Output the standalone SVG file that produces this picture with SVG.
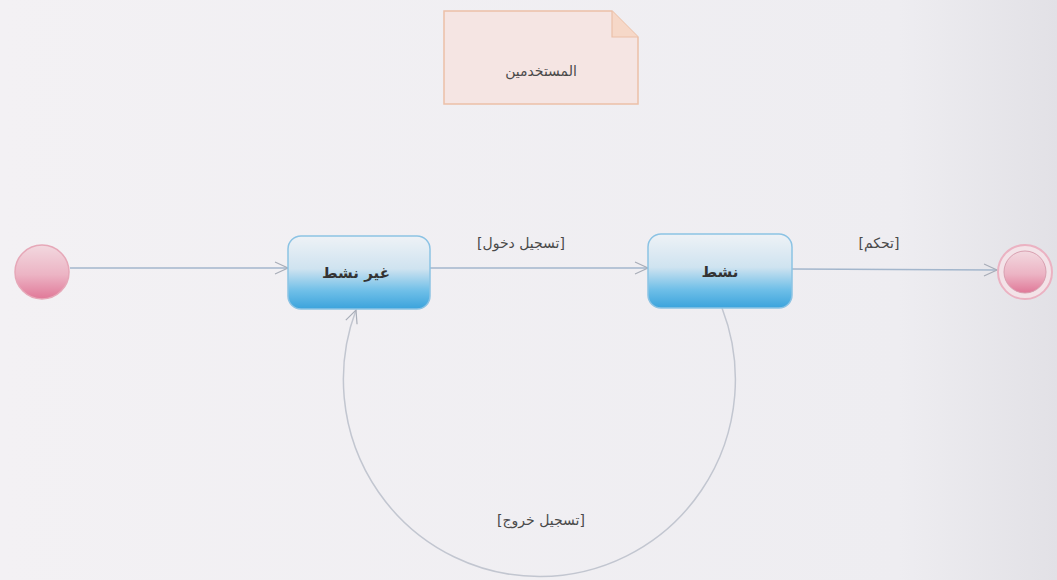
<svg xmlns="http://www.w3.org/2000/svg" width="1057" height="580" viewBox="0 0 1057 580">
  <defs>
    <linearGradient id="bg" x1="0" y1="0" x2="1" y2="0">
      <stop offset="0" stop-color="#f3f1f4"/>
      <stop offset="0.85" stop-color="#eeedf1"/>
      <stop offset="1" stop-color="#e2e1e6"/>
    </linearGradient>
    <linearGradient id="stateFill" x1="0" y1="0" x2="0" y2="1">
      <stop offset="0" stop-color="#eef2f6"/>
      <stop offset="0.45" stop-color="#cfe3f0"/>
      <stop offset="0.75" stop-color="#6fbfe8"/>
      <stop offset="1" stop-color="#3ba3dc"/>
    </linearGradient>
    <linearGradient id="pinkFill" x1="0" y1="0" x2="0" y2="1">
      <stop offset="0" stop-color="#f2d8df"/>
      <stop offset="0.55" stop-color="#ecb4c4"/>
      <stop offset="1" stop-color="#e07898"/>
    </linearGradient>
    <marker id="open" markerWidth="16" markerHeight="14" refX="14" refY="7" orient="auto" markerUnits="userSpaceOnUse">
      <path d="M1,1 L14,7 L1,13" fill="none" stroke="#a8adb8" stroke-width="1.2"/>
    </marker>
    <style>
      .edge { fill: none; stroke: #a3b6cc; stroke-width: 1.6; }
      .loop { fill: none; stroke: #c2c6d0; stroke-width: 1.5; }
      .state { fill: url(#stateFill); stroke: #8cc3e4; stroke-width: 1.5; }
      .label { font-family: "DejaVu Sans", sans-serif; font-size: 14px; fill: #4a4a4a; text-anchor: middle; }
      .sname { font-family: "DejaVu Sans", sans-serif; font-size: 15px; fill: #333; text-anchor: middle; font-weight: bold; }
    </style>
  </defs>

  <rect width="1057" height="580" fill="url(#bg)"/>

  <!-- comment note -->
  <g id="note">
    <path d="M444,11 L612,11 L638,37 L638,104 L444,104 Z" fill="#f5e5e3" stroke="#ecc0a8" stroke-width="1.5"/>
    <path d="M612,11 L612,37 L638,37" fill="#f6d8c8" stroke="#ecc0a8" stroke-width="1.2"/>
    <text class="label" x="541" y="76" direction="rtl">المستخدمين</text>
  </g>

  <!-- transitions -->
  <g id="connectors">
    <path class="edge" d="M70,268 L288,268" marker-end="url(#open)"/>
    <path class="edge" d="M430,268 L648,268" marker-end="url(#open)"/>
    <path class="edge" d="M792,269 L997,270" marker-end="url(#open)"/>
    <path class="loop" d="M722,308 A196,197 0 1 1 356,310" marker-end="url(#open)"/>
    <text class="label" x="521" y="248" direction="rtl">[تسجيل دخول]</text>
    <text class="label" x="879" y="248" direction="rtl">[تحكم]</text>
    <text class="label" x="541" y="525" direction="rtl">[تسجيل خروج]</text>
  </g>

  <g id="initial">
    <circle cx="42" cy="272" r="27" fill="url(#pinkFill)" stroke="#e6a8b8" stroke-width="1.5"/>
  </g>

  <g id="inactive">
    <rect class="state" x="288" y="236" width="142" height="73" rx="13"/>
    <text class="sname" x="356" y="278" direction="rtl">غير نشط</text>
  </g>

  <g id="active">
    <rect class="state" x="648" y="234" width="144" height="74" rx="13"/>
    <text class="sname" x="720" y="277" direction="rtl">نشط</text>
  </g>

  <g id="final">
    <circle cx="1025" cy="272" r="27" fill="#f3e3e8" stroke="#ebb2c2" stroke-width="2"/>
    <circle cx="1025" cy="272" r="21" fill="url(#pinkFill)" stroke="#d8a0b0" stroke-width="1"/>
  </g>
</svg>
